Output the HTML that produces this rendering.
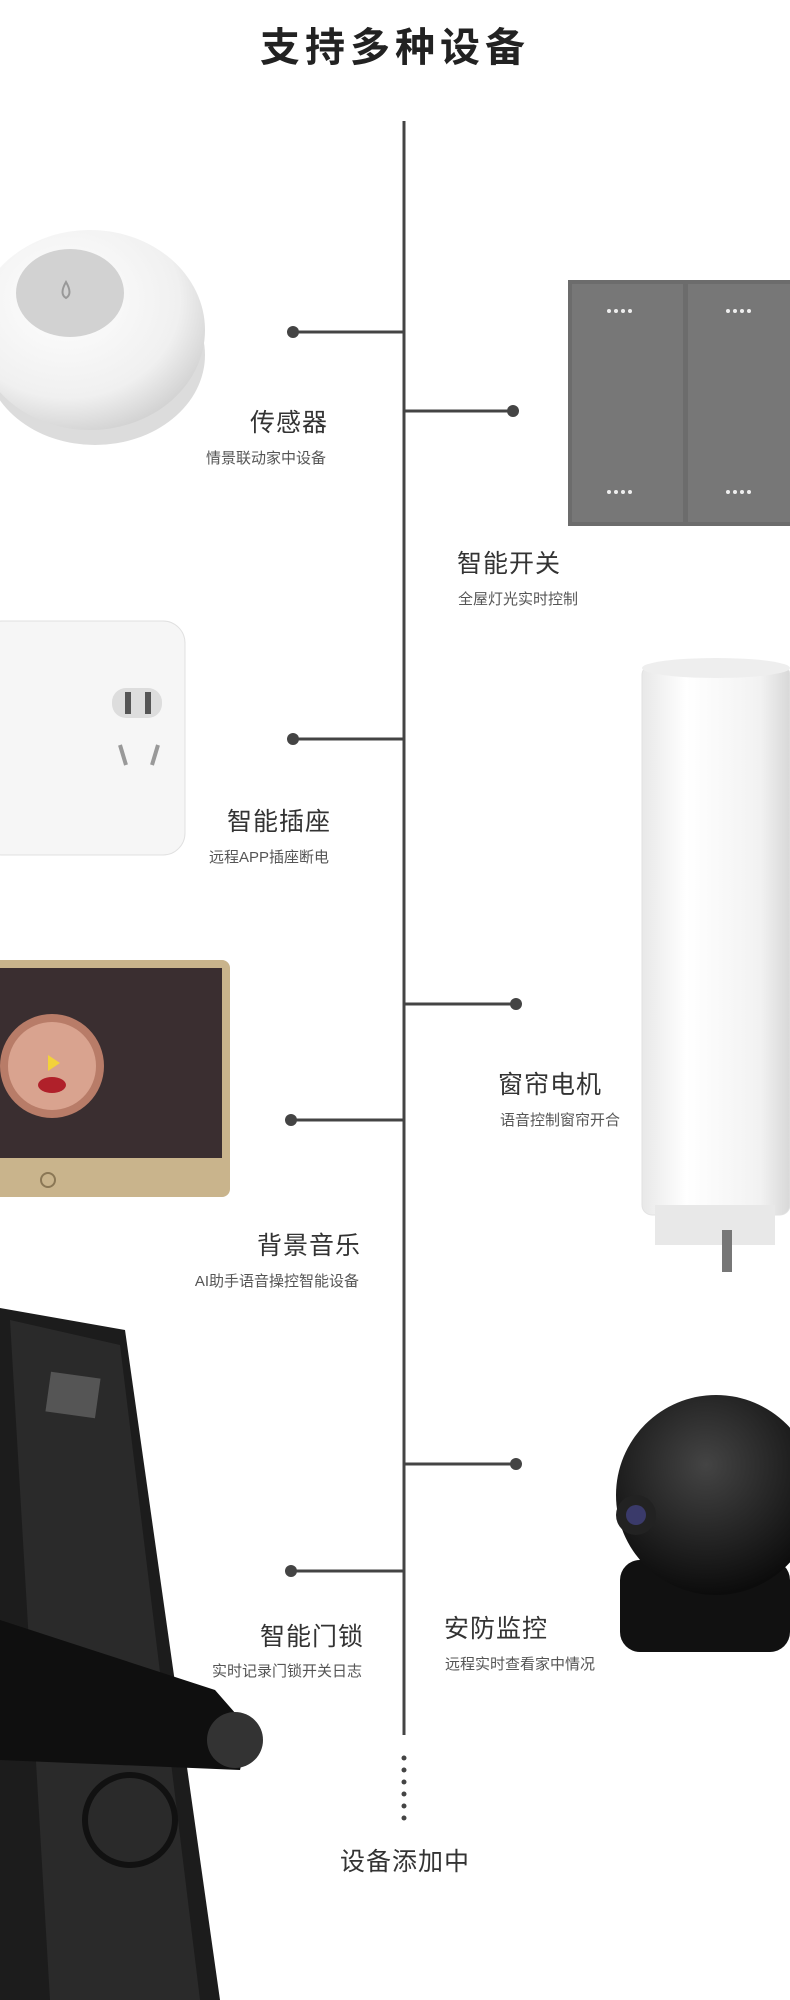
<!DOCTYPE html>
<html><head><meta charset="utf-8"><style>
body{margin:0;width:790px;height:2000px;background:#fff;position:relative;overflow:hidden;font-family:"Liberation Sans","Noto Sans CJK SC",sans-serif;color:#333}
.t{position:absolute;font-size:25px;letter-spacing:1px;white-space:nowrap;line-height:1}
.s{position:absolute;font-size:15px;color:#555;white-space:nowrap;line-height:1}
.r{text-align:right}
</style></head><body>
<svg width="790" height="2000" style="position:absolute;left:0;top:0">
<defs>
<radialGradient id="sg" cx="40%" cy="35%" r="70%"><stop offset="0" stop-color="#fff"/><stop offset="0.7" stop-color="#f0f0f0"/><stop offset="1" stop-color="#cfcfcf"/></radialGradient>
<linearGradient id="cyl" x1="0" x2="1"><stop offset="0" stop-color="#e8e8e8"/><stop offset="0.3" stop-color="#fff"/><stop offset="0.8" stop-color="#f2f2f2"/><stop offset="1" stop-color="#d8d8d8"/></linearGradient>
<radialGradient id="cam" cx="45%" cy="35%" r="65%"><stop offset="0" stop-color="#444"/><stop offset="1" stop-color="#0c0c0c"/></radialGradient>
</defs>
<ellipse cx="95" cy="355" rx="110" ry="90" fill="#dcdcdc"/>
<ellipse cx="90" cy="330" rx="115" ry="100" fill="url(#sg)"/>
<ellipse cx="70" cy="293" rx="54" ry="44" fill="#d2d2d2"/>
<path d="M66 282 q-7 12 0 16 q7 -4 0 -16z" fill="none" stroke="#999" stroke-width="2"/>
<rect x="568" y="280" width="222" height="246" fill="#6c6c6c"/>
<rect x="572" y="284" width="111" height="238" fill="#777"/>
<rect x="688" y="284" width="102" height="238" fill="#777"/>
<g fill="#eee"><circle cx="609" cy="311" r="2"/><circle cx="616" cy="311" r="2"/><circle cx="623" cy="311" r="2"/><circle cx="630" cy="311" r="2"/>
<circle cx="728" cy="311" r="2"/><circle cx="735" cy="311" r="2"/><circle cx="742" cy="311" r="2"/><circle cx="749" cy="311" r="2"/>
<circle cx="609" cy="492" r="2"/><circle cx="616" cy="492" r="2"/><circle cx="623" cy="492" r="2"/><circle cx="630" cy="492" r="2"/>
<circle cx="728" cy="492" r="2"/><circle cx="735" cy="492" r="2"/><circle cx="742" cy="492" r="2"/><circle cx="749" cy="492" r="2"/></g>
<rect x="-20" y="621" width="205" height="234" rx="22" fill="#f6f6f6" stroke="#e0e0e0"/>
<rect x="112" y="688" width="50" height="30" rx="14" fill="#ddd"/>
<rect x="125" y="692" width="6" height="22" fill="#555"/><rect x="145" y="692" width="6" height="22" fill="#555"/>
<path d="M120 745 l6 20 M158 745 l-6 20" stroke="#999" stroke-width="4"/>
<rect x="642" y="665" width="148" height="550" rx="10" fill="url(#cyl)" stroke="#e2e2e2"/>
<ellipse cx="716" cy="668" rx="74" ry="10" fill="#eee"/>
<rect x="655" y="1205" width="120" height="40" fill="#e8e8e8"/>
<rect x="722" y="1230" width="10" height="42" fill="#777"/>
<rect x="-10" y="960" width="240" height="237" rx="8" fill="#c9b48c"/>
<rect x="-10" y="968" width="232" height="190" fill="#3a2e30"/>
<circle cx="52" cy="1066" r="52" fill="#b87c68"/>
<circle cx="52" cy="1066" r="44" fill="#d9a38f"/>
<ellipse cx="52" cy="1085" rx="14" ry="8" fill="#b0202a"/>
<path d="M48 1055 l12 8 l-12 8z" fill="#f3d23a"/>
<circle cx="48" cy="1180" r="7" fill="none" stroke="#8a7755" stroke-width="2"/>
<rect x="620" y="1560" width="170" height="92" rx="20" fill="#111"/>
<circle cx="716" cy="1495" r="100" fill="url(#cam)"/>
<circle cx="636" cy="1515" r="20" fill="#222"/><circle cx="636" cy="1515" r="10" fill="#3a3a6a"/>
<path d="M0 1308 L125 1330 L220 2000 L0 2000Z" fill="#1c1c1c"/>
<path d="M10 1320 L120 1345 L200 2000 L50 2000Z" fill="#2a2a2a"/>
<rect x="48" y="1375" width="50" height="40" fill="#555" transform="rotate(8 73 1395)"/>
<path d="M0 1620 L215 1690 L250 1730 L240 1770 L0 1760Z" fill="#0f0f0f"/>
<circle cx="235" cy="1740" r="28" fill="#333"/>
<circle cx="130" cy="1820" r="45" fill="none" stroke="#111" stroke-width="6"/>
<line x1="404" y1="121" x2="404" y2="1735" stroke="#444" stroke-width="3"/>
<g stroke="#444" stroke-width="3">
<line x1="293" y1="332" x2="404" y2="332"/><line x1="404" y1="411" x2="513" y2="411"/>
<line x1="293" y1="739" x2="404" y2="739"/><line x1="404" y1="1004" x2="516" y2="1004"/>
<line x1="291" y1="1120" x2="404" y2="1120"/><line x1="404" y1="1464" x2="516" y2="1464"/>
<line x1="291" y1="1571" x2="404" y2="1571"/></g>
<g fill="#444"><circle cx="293" cy="332" r="6"/><circle cx="513" cy="411" r="6"/><circle cx="293" cy="739" r="6"/><circle cx="516" cy="1004" r="6"/><circle cx="291" cy="1120" r="6"/><circle cx="516" cy="1464" r="6"/><circle cx="291" cy="1571" r="6"/>
<circle cx="404" cy="1758" r="2.5"/><circle cx="404" cy="1770" r="2.5"/><circle cx="404" cy="1782" r="2.5"/><circle cx="404" cy="1794" r="2.5"/><circle cx="404" cy="1806" r="2.5"/><circle cx="404" cy="1818" r="2.5"/></g>
</svg>
<div class="t" style="left:0;width:790px;text-align:center;top:28px;font-size:40px;font-weight:bold;letter-spacing:5px;color:#222">支持多种设备</div>
<div class="t r" style="right:462px;top:411px">传感器</div>
<div class="s r" style="right:464px;top:451px">情景联动家中设备</div>
<div class="t" style="left:457px;top:552px">智能开关</div>
<div class="s" style="left:458px;top:592px">全屋灯光实时控制</div>
<div class="t r" style="right:459px;top:810px">智能插座</div>
<div class="s r" style="right:461px;top:850px">远程APP插座断电</div>
<div class="t" style="left:498px;top:1073px">窗帘电机</div>
<div class="s" style="left:500px;top:1113px">语音控制窗帘开合</div>
<div class="t r" style="right:429px;top:1234px">背景音乐</div>
<div class="s r" style="right:431px;top:1274px">AI助手语音操控智能设备</div>
<div class="t" style="left:444px;top:1617px">安防监控</div>
<div class="s" style="left:445px;top:1657px">远程实时查看家中情况</div>
<div class="t r" style="right:426px;top:1625px">智能门锁</div>
<div class="s r" style="right:428px;top:1664px">实时记录门锁开关日志</div>
<div class="t" style="left:0;width:810px;text-align:center;top:1850px">设备添加中</div>
</body></html>
